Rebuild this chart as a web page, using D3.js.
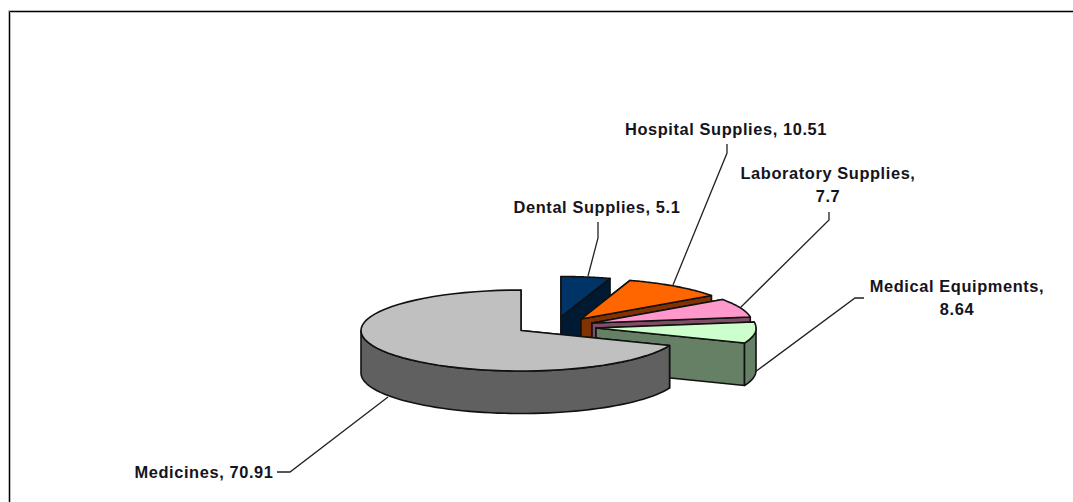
<!DOCTYPE html>
<meta charset="utf-8">
<style>
body { margin: 0; background: #fff; overflow: hidden; }
text { font: bold 16.4px "Liberation Sans", sans-serif; letter-spacing: 0.6px; fill: #141420; text-anchor: middle; }
.leader { fill: none; stroke: #222; stroke-width: 1.3; }
.face { stroke: #111; stroke-width: 1.6; stroke-linejoin: round; }
</style>
<svg width="1073" height="502"></svg>
<script src="https://d3js.org/d3.v7.min.js"></script>
<script>

var categories = ["Dental Supplies", "Hospital Supplies", "Laboratory Supplies", "Medical Equipments", "Medicines"];
var values = [5.1, 10.51, 7.7, 8.64, 70.91];
var valueLabels = ["5.1", "10.51", "7.7", "8.64", "70.91"];

// layout, kept apart from the data
var topColors = ["#003366", "#ff6600", "#ff99cc", "#ccffcc", "#c0c0c0"];
var wallColors = ["#001a33", "#803300", "#804d66", "#668066", "#606060"];
var apexes = [[561, 317], [581, 319], [592, 323], [596, 328], [521, 330.5]];
var labelLines = [
  [[597, 213]],
  [[726, 134.5]],
  [[828, 179], [828, 202]],
  [[957, 292], [957, 315]],
  [[204, 477.5]]
];
var leaders = [
  [[598, 222], [598, 238], [588, 276]],
  [[727, 144], [727, 153], [673, 285]],
  [[829, 212], [829, 220], [740, 308]],
  [[864, 298], [855, 298], [755, 372]],
  [[277, 472], [290, 472], [388, 397]]
];

var rx = 160, ry = 40.5, depth = 42.5;

var svg = d3.select("svg");

// chart frame
svg.append("path").attr("d", "M8.5,502V10.5H1073M10.5,502V12.5H1073").attr("fill", "none").attr("stroke", "#bbb");
svg.append("path").attr("d", "M9.5,502V11.5H1073").attr("fill", "none").attr("stroke", "#000");

var slices = d3.pie().sort(null)(values);

function pt(apex, a, dy) {
  return [apex[0] + rx * Math.sin(a), apex[1] - ry * Math.cos(a) + (dy || 0)];
}

function arcPoints(apex, a0, a1, dy) {
  return d3.range(0, 61).map(function(i) {
    return pt(apex, a0 + (a1 - a0) * i / 60, dy);
  });
}

function poly(points) {
  return d3.line()(points) + "Z";
}

// back to front, Medicines last
slices.forEach(function(s, i) {
  var apex = apexes[i], g = svg.append("g");
  var low = [apex[0], apex[1] + depth];

  // cut faces
  [s.startAngle, s.endAngle].forEach(function(a) {
    g.append("path").attr("class", "face").attr("fill", wallColors[i])
      .attr("d", poly([apex, pt(apex, a), pt(apex, a, depth), low]));
  });

  // outer wall, only the part turned towards the viewer
  var w0 = Math.max(s.startAngle, Math.PI / 2), w1 = Math.min(s.endAngle, 3 * Math.PI / 2);
  if (w1 > w0) {
    g.append("path").attr("class", "face").attr("fill", wallColors[i])
      .attr("d", poly(arcPoints(apex, w0, w1).concat(arcPoints(apex, w1, w0, depth))));
  }

  // top
  g.append("path").attr("class", "face").attr("fill", topColors[i])
    .attr("d", poly([apex].concat(arcPoints(apex, s.startAngle, s.endAngle))));
});

svg.selectAll(".leader").data(leaders).enter().append("path")
    .attr("class", "leader")
    .attr("d", d3.line());

categories.forEach(function(c, i) {
  var full = c + ", " + valueLabels[i];
  var lines = labelLines[i].length > 1 ? [c + ",", valueLabels[i]] : [full];
  lines.forEach(function(t, j) {
    svg.append("text")
      .attr("x", labelLines[i][j][0])
      .attr("y", labelLines[i][j][1])
      .text(t);
  });
});

</script>
